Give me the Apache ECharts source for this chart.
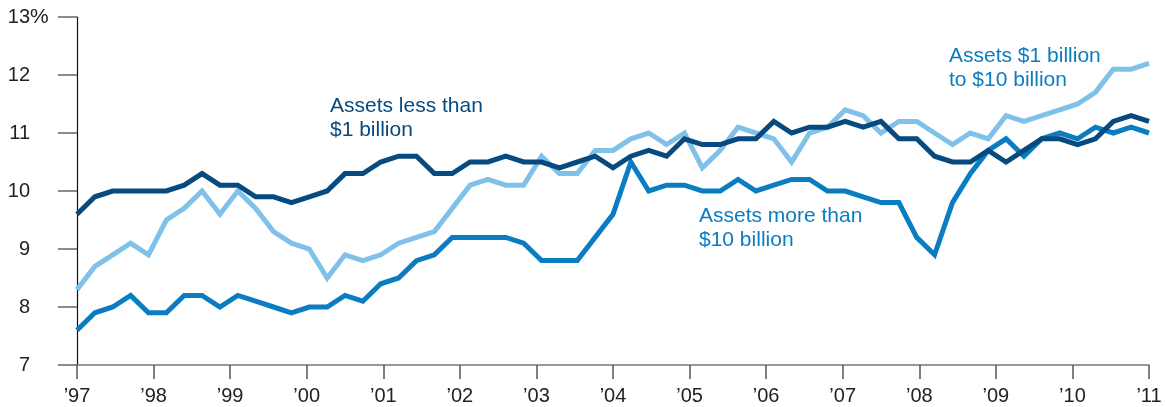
<!DOCTYPE html>
<html>
<head>
<meta charset="utf-8">
<script src="https://cdn.jsdelivr.net/npm/echarts@6/dist/echarts.min.js"></script>
<style>
  html, body { margin: 0; padding: 0; background: #fff; }
  #chart { width: 1165px; height: 407px; }
</style>
</head>
<body>
<div id="chart"></div>
<script>
// quarterly readings, '97 through '11
const lessThan1B = [
  9.6, 9.9, 10.0, 10.0, 10.0, 10.0, 10.1, 10.3, 10.1, 10.1,
  9.9, 9.9, 9.8, 9.9, 10.0, 10.3, 10.3, 10.5, 10.6, 10.6,
  10.3, 10.3, 10.5, 10.5, 10.6, 10.5, 10.5, 10.4, 10.5, 10.6,
  10.4, 10.6, 10.7, 10.6, 10.9, 10.8, 10.8, 10.9, 10.9, 11.2,
  11.0, 11.1, 11.1, 11.2, 11.1, 11.2, 10.9, 10.9, 10.6, 10.5,
  10.5, 10.7, 10.5, 10.7, 10.9, 10.9, 10.8, 10.9, 11.2, 11.3,
  11.2
];
const from1Bto10B = [
  8.3, 8.7, 8.9, 9.1, 8.9, 9.5, 9.7, 10.0, 9.6, 10.0,
  9.7, 9.3, 9.1, 9.0, 8.5, 8.9, 8.8, 8.9, 9.1, 9.2,
  9.3, 9.7, 10.1, 10.2, 10.1, 10.1, 10.6, 10.3, 10.3, 10.7,
  10.7, 10.9, 11.0, 10.8, 11.0, 10.4, 10.7, 11.1, 11.0, 10.9,
  10.5, 11.0, 11.1, 11.4, 11.3, 11.0, 11.2, 11.2, 11.0, 10.8,
  11.0, 10.9, 11.3, 11.2, 11.3, 11.4, 11.5, 11.7, 12.1, 12.1,
  12.2
];
const moreThan10B = [
  7.6, 7.9, 8.0, 8.2, 7.9, 7.9, 8.2, 8.2, 8.0, 8.2,
  8.1, 8.0, 7.9, 8.0, 8.0, 8.2, 8.1, 8.4, 8.5, 8.8,
  8.9, 9.2, 9.2, 9.2, 9.2, 9.1, 8.8, 8.8, 8.8, 9.2,
  9.6, 10.5, 10.0, 10.1, 10.1, 10.0, 10.0, 10.2, 10.0, 10.1,
  10.2, 10.2, 10.0, 10.0, 9.9, 9.8, 9.8, 9.2, 8.9, 9.8,
  10.3, 10.7, 10.9, 10.6, 10.9, 11.0, 10.9, 11.1, 11.0, 11.1,
  11.0
];
const yearLabels = ['’97', '’98', '’99', '’00', '’01', '’02', '’03', '’04',
  '’05', '’06', '’07', '’08', '’09', '’10', '’11'];
const points = lessThan1B.map((_, i) => String(i));

const darkBlue = '#064a80';
const midBlue = '#0a7dc2';
const lightBlue = '#80c1ea';
const font = '"Liberation Sans", Arial, Helvetica, sans-serif';

const chart = echarts.init(document.getElementById('chart'));

const lineSeries = (name, data, color) => ({
  name: name,
  type: 'line',
  xAxisIndex: 0,
  data: data,
  symbol: 'none',
  animation: false,
  lineStyle: { color: color, width: 5, join: 'miter', cap: 'butt' }
});

chart.setOption({
  backgroundColor: '#fff',
  animation: false,
  grid: { left: 77, right: 16, top: 17, bottom: 42 },
  xAxis: [
    {
      type: 'category',
      data: points,
      boundaryGap: false,
      show: false
    },
    {
      type: 'category',
      data: yearLabels,
      boundaryGap: false,
      position: 'bottom',
      axisLine: { show: true, lineStyle: { color: '#777', width: 1.5 } },
      axisTick: { show: true, length: 14, lineStyle: { color: '#555', width: 1.5 } },
      axisLabel: { color: '#222', fontSize: 20, fontFamily: font, margin: 21 },
      splitLine: { show: false }
    }
  ],
  yAxis: {
    type: 'value',
    min: 7,
    max: 13,
    interval: 1,
    axisLine: { show: true, lineStyle: { color: '#111', width: 1.2 } },
    axisTick: { show: true, length: 19, lineStyle: { color: '#666', width: 1.5 } },
    axisLabel: { color: '#222', fontSize: 20, fontFamily: font, margin: 47, align: 'right' },
    splitLine: { show: false }
  },
  series: [
    lineSeries('Assets $1 billion to $10 billion', from1Bto10B, lightBlue),
    lineSeries('Assets more than $10 billion', moreThan10B, midBlue),
    lineSeries('Assets less than $1 billion', lessThan1B, darkBlue)
  ],
  graphic: [
    {
      type: 'text', left: 30, top: 7,
      style: { text: '%', fill: '#222', font: '21px ' + font }
    },
    {
      type: 'text', left: 330, top: 94,
      style: { text: 'Assets less than\n$1 billion', fill: darkBlue, font: '21px ' + font, lineHeight: 24 }
    },
    {
      type: 'text', left: 699, top: 204,
      style: { text: 'Assets more than\n$10 billion', fill: midBlue, font: '21px ' + font, lineHeight: 24 }
    },
    {
      type: 'text', left: 949, top: 44,
      style: { text: 'Assets $1 billion\nto $10 billion', fill: midBlue, font: '21px ' + font, lineHeight: 24 }
    }
  ]
});

window.addEventListener('resize', () => chart.resize());
</script>
</body>
</html>
